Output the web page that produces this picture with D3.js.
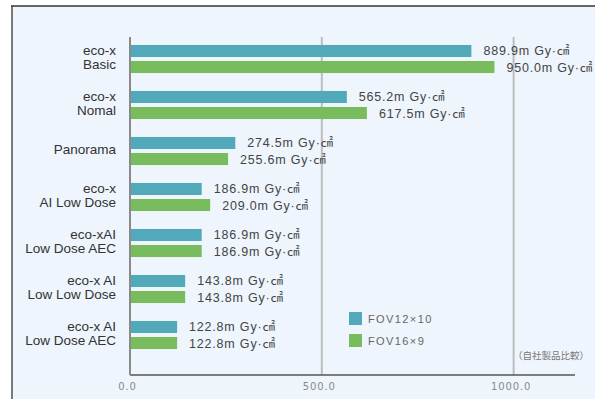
<!DOCTYPE html>
<html><head><meta charset="utf-8">
<script src="https://cdn.jsdelivr.net/npm/d3@7"></script>
<style>
html,body{margin:0;padding:0;background:#fff;}
svg{display:block;}
</style></head>
<body>
<svg id="chart" width="595" height="399"></svg>
<script>
const categories = [
  ["eco-x", "Basic"],
  ["eco-x", "Nomal"],
  ["Panorama"],
  ["eco-x", "AI Low Dose"],
  ["eco-xAI", "Low Dose AEC"],
  ["eco-x AI", "Low Low Dose"],
  ["eco-x AI", "Low Dose AEC"]
];
const seriesNames = ["FOV12×10", "FOV16×9"];
const fov12x10 = [889.9, 565.2, 274.5, 186.9, 186.9, 143.8, 122.8];
const fov16x9  = [950.0, 617.5, 255.6, 209.0, 186.9, 143.8, 122.8];
const xTicks = [0, 500, 1000];
const unitLabel = "m Gy·㎠";
const noteText = "（自社製品比較）";
const colors = ["#52A9BA", "#79BC5E"];

const svg = d3.select("#chart");
// panel
svg.append("rect").attr("x", 13).attr("y", 7).attr("width", 582).attr("height", 392).attr("fill", "#EEF5FC");
svg.append("line").attr("x1", 12).attr("x2", 12).attr("y1", 6).attr("y2", 399).attr("stroke", "#7a7a7a").attr("stroke-width", 2);
svg.append("line").attr("x1", 11).attr("x2", 595).attr("y1", 6).attr("y2", 6).attr("stroke", "#333").attr("stroke-width", 1.6);

const keys = categories.map((c, i) => i);
const x = d3.scaleLinear().domain([0, 1160]).range([130, 575]);
const y0 = d3.scaleBand().domain(keys).range([36, 358]).paddingInner(0.39).paddingOuter(0.195);
const y1 = d3.scaleBand().domain(seriesNames).range([0, y0.bandwidth()]).paddingInner(0.25);

const axisTop = 37, axisBottom = 375;
// gridlines
svg.append("g").selectAll("line").data(xTicks.filter(t => t > 0)).join("line")
  .attr("x1", d => x(d)).attr("x2", d => x(d))
  .attr("y1", axisTop).attr("y2", axisBottom)
  .attr("stroke", "#bdbdbd").attr("stroke-width", 2);

// x axis
const xAxis = d3.axisBottom(x).tickValues(xTicks).tickSize(0).tickPadding(8).tickFormat(d3.format(".1f"));
const gx = svg.append("g").attr("transform", `translate(0,${axisBottom})`).call(xAxis);
gx.select(".domain").remove();
gx.selectAll("text").attr("fill", "#8a8a8a").attr("font-size", 10).attr("letter-spacing", 0.9)
  .attr("font-family", "'DejaVu Sans', sans-serif").attr("dx", -3);
svg.append("line").attr("x1", x(0)).attr("x2", 575).attr("y1", axisBottom).attr("y2", axisBottom).attr("stroke", "#555").attr("stroke-width", 1.5);
// y axis line
svg.append("line").attr("x1", x(0)).attr("x2", x(0)).attr("y1", axisTop).attr("y2", axisBottom).attr("stroke", "#8a8a8a").attr("stroke-width", 2);

// bars
const rows = keys.map(i => ({i, vals: [fov12x10[i], fov16x9[i]]}));
const groups = svg.append("g").selectAll("g").data(rows).join("g")
  .attr("transform", d => `translate(0,${y0(d.i)})`);
groups.selectAll("rect").data(d => d.vals.map((v, k) => ({v, k}))).join("rect")
  .attr("x", x(0) + 1)
  .attr("y", d => y1(seriesNames[d.k]))
  .attr("width", d => x(d.v) - x(0) - 1)
  .attr("height", y1.bandwidth())
  .attr("fill", d => colors[d.k]);
groups.selectAll("text.val").data(d => d.vals.map((v, k) => ({v, k}))).join("text")
  .attr("class", "val")
  .attr("x", d => x(d.v) + 12)
  .attr("y", d => y1(seriesNames[d.k]) + y1.bandwidth() / 2 + 4.5)
  .attr("font-size", 12.5)
  .attr("letter-spacing", 0.8)
  .attr("fill", "#444")
  .attr("font-family", "'Liberation Sans', 'Noto Sans CJK JP', sans-serif")
  .text(d => d3.format(".1f")(d.v) + unitLabel);

// category labels
const labs = svg.append("g").selectAll("text").data(rows).join("text")
  .attr("text-anchor", "end")
  .attr("font-size", 13.5)
  .attr("fill", "#333")
  .attr("font-family", "'Liberation Sans', Arial, sans-serif")
  .attr("transform", d => `translate(116,${y0(d.i) + y0.bandwidth() / 2})`);
labs.each(function(d) {
  const lines = categories[d.i];
  const t = d3.select(this);
  if (lines.length === 1) {
    t.append("tspan").attr("x", 0).attr("y", 3).text(lines[0]);
  } else {
    t.append("tspan").attr("x", 0).attr("y", -4.5).text(lines[0]);
    t.append("tspan").attr("x", 0).attr("y", 9.5).text(lines[1]);
  }
});

// legend
const leg = svg.append("g").attr("transform", "translate(349,312)");
const li = leg.selectAll("g").data(seriesNames).join("g").attr("transform", (d, k) => `translate(0,${k * 22})`);
li.append("rect").attr("width", 13).attr("height", 13).attr("fill", (d, k) => colors[k]);
li.append("text").attr("x", 19).attr("y", 11).attr("font-size", 11).attr("letter-spacing", 1.4)
  .attr("fill", "#666").attr("font-family", "'Liberation Sans', 'Noto Sans CJK JP', sans-serif").text(d => d);

// note
svg.append("text").attr("x", 589).attr("y", 359).attr("text-anchor", "end")
  .attr("font-size", 9.5).attr("fill", "#777")
  .attr("font-family", "'Noto Sans CJK JP', sans-serif").text(noteText);
</script>
</body></html>
